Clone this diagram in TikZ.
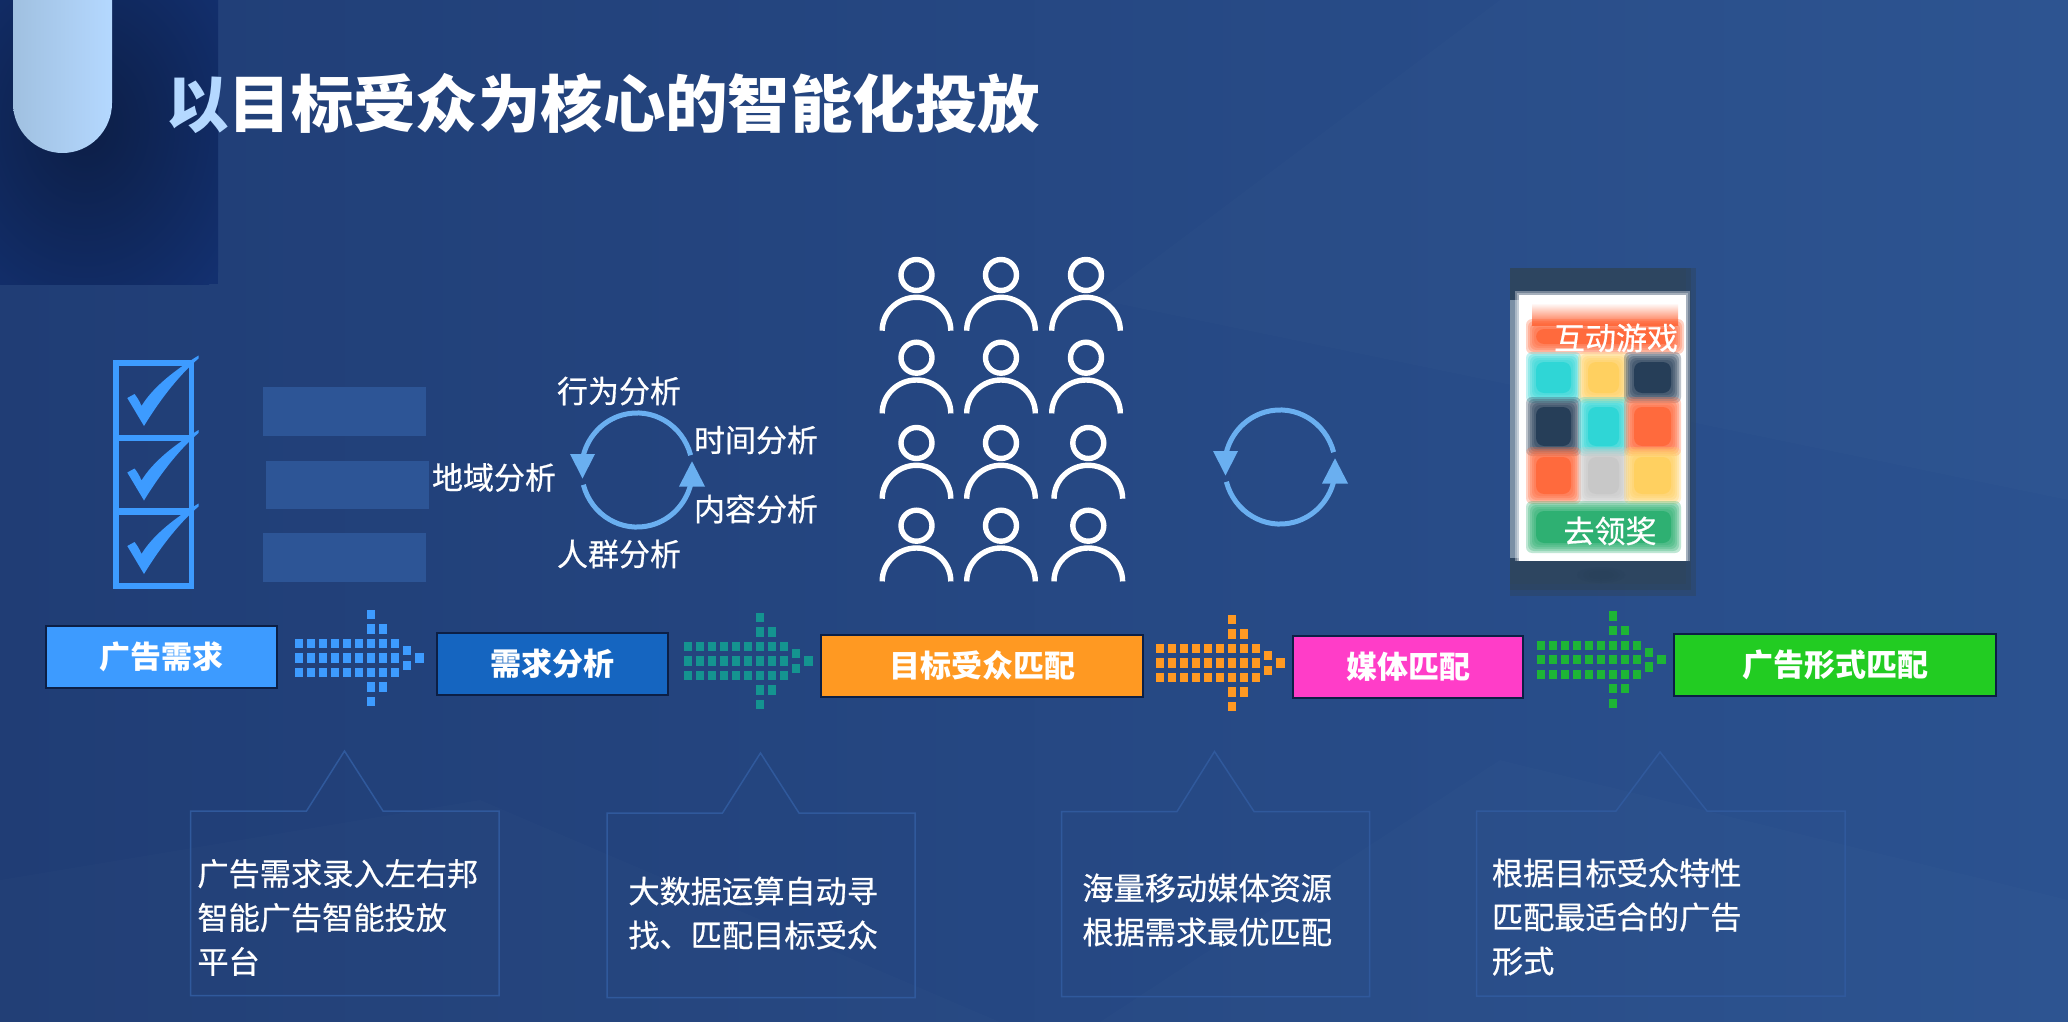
\documentclass[tikz,border=0pt]{standalone}
\usepackage{fontspec}
\usepackage{tikz}
\newfontfamily\cjk[FakeBold=0.6]{Noto Sans CJK SC}
\newfontfamily\cjkhead{Noto Sans CJK SC}
\definecolor{slide left}{HTML}{203D75}
\definecolor{slide right}{HTML}{2B5290}
\definecolor{panel navy}{HTML}{13306F}
\definecolor{shadow navy}{HTML}{0C1E46}
\definecolor{pill dim}{HTML}{A0C0E0}
\definecolor{pill light}{HTML}{B4D8FF}
\definecolor{ask blue}{HTML}{3D9BFF}
\definecolor{study blue}{HTML}{1565C0}
\definecolor{study teal}{HTML}{149490}
\definecolor{match orange}{HTML}{FF9922}
\definecolor{media pink}{HTML}{FF3DC8}
\definecolor{form green}{HTML}{22CC22}
\definecolor{dot green}{HTML}{1DB535}
\definecolor{box edge}{HTML}{0C1F45}
\definecolor{block blue}{HTML}{2D5596}
\definecolor{cycle blue}{HTML}{6AAFF0}
\definecolor{note edge}{HTML}{30599C}
\definecolor{phone dark}{HTML}{2D4560}
\definecolor{phone side}{HTML}{7A8FA5}
\definecolor{cell red}{HTML}{FF6A3D}
\definecolor{cell cyan}{HTML}{2FD6D6}
\definecolor{cell yellow}{HTML}{FFD060}
\definecolor{cell dark}{HTML}{263E58}
\definecolor{cell grey}{HTML}{C8C8C8}
\definecolor{cell green}{HTML}{2EB072}
\tikzset{
	stagebox/.style={draw=box edge, line width=1pt, text=white, inner sep=0pt,
		font=\cjkhead\bfseries\fontsize{15.5}{18}\selectfont},
	tag/.style={text=white, inner sep=0pt, xshift=-0.5pt, yshift=0.5pt, font=\cjk\fontsize{15.5}{18}\selectfont},
	notetext/.style={text=white, inner sep=0pt, anchor=west, align=left, xshift=-0.5pt,
		font=\cjk\fontsize{15.6}{22}\selectfont},
	notebox/.style={draw=note edge, line width=0.75pt},
	person/.style={draw=white, line width=2.7pt}
}
\begin{document}
\begin{tikzpicture}[x=0.5pt, y=-0.5pt]
			\useasboundingbox (0, 0) rectangle (2068, 1022);
			% part for the slide
			\begin{scope}
				\shade[left color = slide left, right color = slide right] (0, 0) rectangle (2068, 1022);
				\fill[color = white, opacity = 0.012] (0, 1022) -- (0, 880) -- (480, 800) -- (1000, 1022) -- cycle;
				\fill[color = white, opacity = 0.012] (1100, 300) -- (1500, 0) -- (2068, 0) -- (2068, 500) -- cycle;
				\fill[color = white, opacity = 0.012] (1100, 1022) -- (1500, 760) -- (2068, 900) -- (2068, 1022) -- cycle;
			\end{scope}
			% part for the corner
			\begin{scope}
				\clip (0, 0) rectangle (218, 284);
				\fill[color = panel navy] (0, 0) rectangle (218, 284);
				\shade[inner color = shadow navy, outer color = panel navy] (85, 125) ellipse (180 and 220);
			\end{scope}
			\shade[left color = pill dim, right color = pill light]
				(13, 0) -- (13, 103) arc[start angle = 180, end angle = 0, x radius = 49.5, y radius = 50] -- (112, 0) -- cycle;
			% title
			\node (title) [anchor = west, text = white, inner sep = 0pt, font = \cjkhead\bfseries\fontsize{31.2}{36}\selectfont]
				at (166, 103) {{\color{pill light}以}目标受众为核心的智能化投放};
			% part for the check list
			\begin{scope}[color = ask blue]
				\foreach \ly in {363, 437.5, 511} {
					\draw[line width = 2.8pt] (116, \ly) rectangle (191.5, \ly + 75);
					\fill (127.3, \ly + 35) -- (134.5, \ly + 31) .. controls (137, \ly + 34) and (139.5, \ly + 38) .. (141.5, \ly + 43)
						.. controls (153, \ly + 24) and (175, \ly + 7) .. (198.5, \ly - 7.5)
						-- (198.5, \ly - 4.5) .. controls (177, \ly + 14) and (158, \ly + 40) .. (144, \ly + 63) -- cycle;
				}
			\end{scope}
			\fill[color = block blue] (263, 387) rectangle (426, 436);
			\fill[color = block blue] (265.5, 461) rectangle (429, 509);
			\fill[color = block blue] (263, 533) rectangle (426, 582);
			% part for the two cycles
			\foreach \cx/\cy in {637/470, 1280/467} {
				\begin{scope}[shift = {(\cx, \cy)}, color = cycle blue]
					\draw[line width = 2.5pt] (53.6, -14.8) arc[start angle = -15, end angle = -165, x radius = 55.5, y radius = 57];
					\draw[line width = 2.5pt] (-53.6, 14.8) arc[start angle = 165, end angle = 15, x radius = 55.5, y radius = 57];
					\fill (-67, -16) -- (-42, -16) -- (-54.5, 8.5) -- cycle;
					\fill (42, 16.5) -- (68, 16.5) -- (55, -8.7) -- cycle;
				\end{scope}
			}
			\node (act) [tag] at (620, 392) {行为分析};
			\node (time) [tag] at (757, 441) {时间分析};
			\node (area) [tag] at (495, 478.5) {地域分析};
			\node (topic) [tag] at (757, 510) {内容分析};
			\node (crowd) [tag] at (620, 555) {人群分析};
			% part for the people
			\foreach \py/\pz in {275/1086, 357.7/1086, 443/1088.3, 525.7/1088.3} {
				\foreach \px in {916.5, 1001, \pz} {
					\draw[person] (\px, \py) circle (15.5);
					\draw[person] (\px - 34.3, \py + 55.7) arc[start angle = 180, end angle = 360, x radius = 34.3, y radius = 33.4];
				}
			}
			% part for the phone
			\begin{scope}
				\fill[color = phone dark, opacity = 0.5] (1510, 268) rectangle (1696, 596);
				\fill[color = phone dark, opacity = 0.7] (1510, 268) rectangle (1691, 590);
				\fill[color = phone dark] (1510, 268) rectangle (1686, 584);
				\fill[color = phone side] (1510, 300) rectangle (1519, 558);
				\foreach \bl in {4, 2} {
					\fill[color = white, opacity = 0.35] (1518.5 - \bl, 295 - \bl) rectangle (1686 + \bl, 561);
				}
				\fill[color = white] (1518.5, 295) rectangle (1686, 561);
				\shade[top color = white, bottom color = cell red] (1532, 303) rectangle (1678, 325);
				\foreach \xa/\ya/\xb/\yb/\cc in {
					1532/325/1678/348/cell red,
					1532/358/1575/397/cell cyan, 1584/358/1623/397/cell yellow, 1630/358/1675/397/cell dark,
					1532/403/1575/450/cell dark, 1584/403/1623/450/cell cyan, 1630/403/1675/450/cell red,
					1532/453/1575/498/cell red, 1584/453/1623/498/cell grey, 1630/453/1675/498/cell yellow,
					1532/507/1675/547/cell green} {
					\foreach \bl in {6, 4, 2, 0, -2} {
						\fill[color = \cc, opacity = 0.3, rounded corners = 3pt] (\xa - \bl, \ya - \bl) rectangle (\xb + \bl, \yb + \bl);
					}
					\fill[color = \cc, rounded corners = 4pt] (\xa + 4, \ya + 4) rectangle (\xb - 4, \yb - 4);
				}
				\foreach \bx/\by in {24/8, 18/6, 12/4} {
					\fill[color = cell dark, opacity = 0.2] (1601, 575) ellipse [x radius = \bx, y radius = \by];
				}
			\end{scope}
			\node (game) [tag] at (1617, 339) {互动游戏};
			\node (prize) [tag] at (1611, 532) {去领奖};
			% stages
			\node (ask) [stagebox, fill = ask blue, minimum width = 115.5pt, minimum height = 31pt] at (161.5, 657) {广告需求};
			\node (study) [stagebox, fill = study blue, minimum width = 115.5pt, minimum height = 31pt] at (552.5, 664) {需求分析};
			\node (crowdmatch) [stagebox, fill = match orange, minimum width = 161pt, minimum height = 31pt] at (982, 666) {目标受众匹配};
			\node (media) [stagebox, fill = media pink, minimum width = 115pt, minimum height = 31pt] at (1408, 666.5) {媒体匹配};
			\node (form) [stagebox, fill = form green, minimum width = 161pt, minimum height = 31pt] at (1835, 664.5) {广告形式匹配};
			% dotted arrows
			\foreach \ax/\ay/\ac in {299/658/ask blue, 688/661/study teal, 1160/663/match orange, 1541/659.7/dot green} {
				\begin{scope}[shift = {(\ax, \ay)}, color = \ac]
					\foreach \i in {0, ..., 8} {
						\foreach \j in {-14.4, 0, 14.4} {
							\fill (\i * 12 - 4.2, \j - 4.6) rectangle +(8.4, 9.2);
						}
					}
					\foreach \dx/\dy in {108/-7.2, 108/7.2, 120.3/0, 72/-43.7, 72/-29, 84/-29, 72/29, 84/29, 72/43.5} {
						\fill (\dx - 4.2, \dy - 4.6) rectangle +(8.4, 9.2);
					}
				\end{scope}
			}
			% part for the notes
			\draw[notebox] (190.5, 811) -- (306.5, 811) -- (344.5, 751) -- (383, 811) -- (499, 811) -- (499, 995.5) -- (190.5, 995.5) -- cycle;
			\draw[notebox] (607, 813) -- (722.5, 813) -- (760.5, 753) -- (799, 813) -- (915, 813) -- (915, 997.5) -- (607, 997.5) -- cycle;
			\draw[notebox] (1061.5, 811.5) -- (1177, 811.5) -- (1214.5, 751.5) -- (1254, 811.5) -- (1369.5, 811.5) -- (1369.5, 996.5) -- (1061.5, 996.5) -- cycle;
			\draw[notebox] (1476.5, 811) -- (1616, 811) -- (1660, 752) -- (1707, 811) -- (1845, 811) -- (1845, 996) -- (1476.5, 996) -- cycle;
			\node (note1) [notetext] at (198, 917.5) {广告需求录入左右邦\\智能广告智能投放\\平台};
			\node (note2) [notetext] at (629, 913) {大数据运算自动寻\\找、匹配目标受众};
			\node (note3) [notetext] at (1083, 910) {海量移动媒体资源\\根据需求最优匹配};
			\node (note4) [notetext] at (1492.5, 917) {根据目标受众特性\\匹配最适合的广告\\形式};
		\end{tikzpicture}
\end{document}
